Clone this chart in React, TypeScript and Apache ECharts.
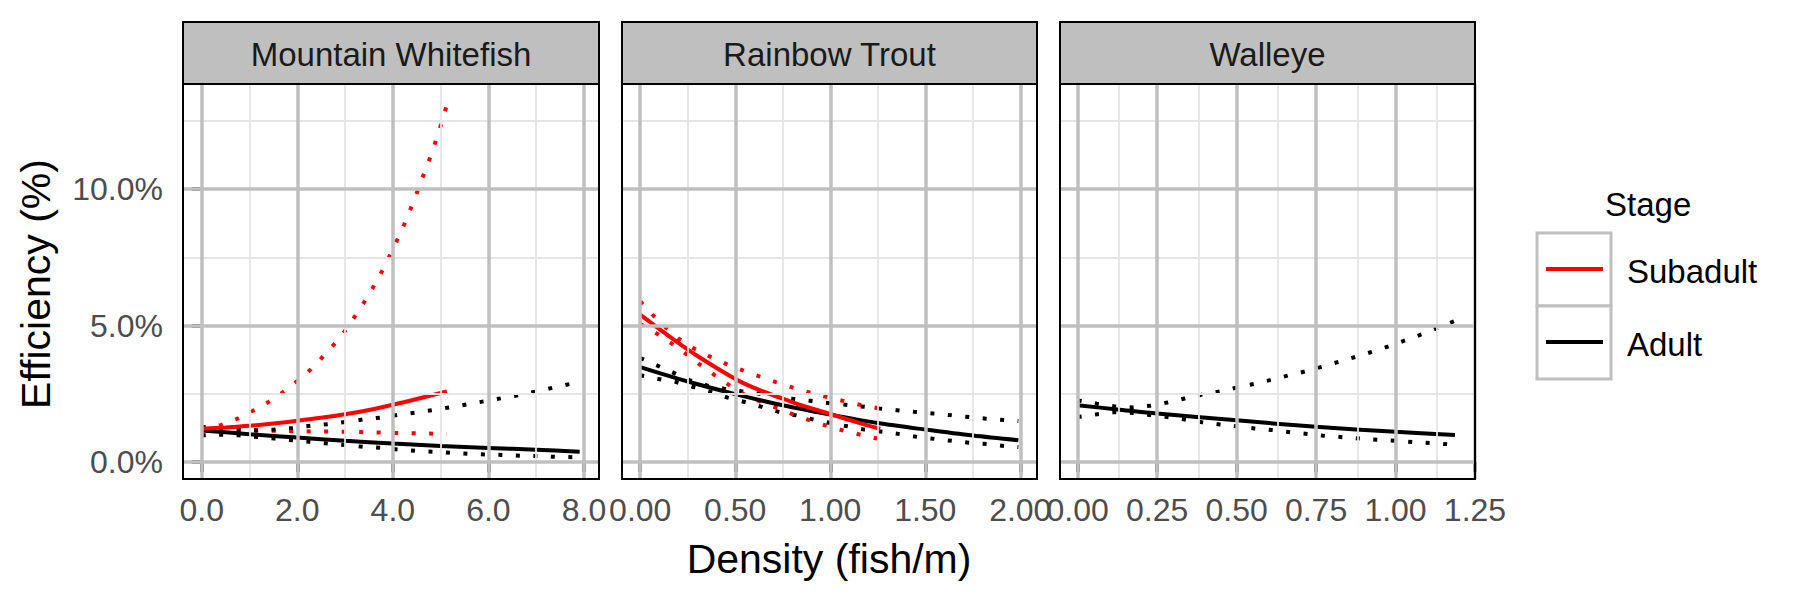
import React, { useEffect, useRef } from 'react';
import * as echarts from 'echarts';

// ---------- labels & ticks ----------
const panelNames = ['Mountain Whitefish', 'Rainbow Trout', 'Walleye'];
const stages = ['Subadult', 'Adult'];
const stageColors = ['#ff0000', '#000000'];
const yTicks = [0, 5, 10];
const yMinor = [2.5, 7.5, 12.5];
const mwTicks = [0, 2, 4, 6, 8];
const mwMinor = [1, 3, 5, 7];
const rtTicks = [0, 0.5, 1, 1.5, 2];
const rtMinor = [0.25, 0.75, 1.25, 1.75];
const waTicks = [0, 0.25, 0.5, 0.75, 1, 1.25];
const waMinor = [0.125, 0.375, 0.625, 0.875, 1.125];
const xTitle = 'Density (fish/m)';
const yTitle = 'Efficiency (%)';
const legendTitle = 'Stage';

// ---------- data: [density, efficiency %] ----------
// Mountain Whitefish
const mwSubFit = [[0, 1.22], [0.5, 1.27], [1, 1.33], [1.5, 1.41], [2, 1.51], [2.5, 1.62], [3, 1.75], [3.5, 1.91], [4, 2.1], [4.5, 2.31], [5.13, 2.59]];
const mwSubUp = [[0, 1.22], [0.4, 1.35], [0.75, 1.59], [1.09, 1.9], [1.4, 2.2], [1.71, 2.57], [2.0, 2.97], [2.28, 3.39], [2.54, 3.87], [2.79, 4.35], [3.02, 4.85], [3.23, 5.4], [3.43, 5.94], [3.62, 6.5], [3.8, 7.08], [3.96, 7.65], [4.12, 8.24], [4.27, 8.83], [4.41, 9.44], [4.54, 10.04], [4.67, 10.65], [4.8, 11.25], [4.92, 11.87], [5.03, 12.49], [5.13, 13.08]];
const mwSubLo = [[0, 1.2], [1, 1.16], [2, 1.13], [3, 1.11], [4, 1.07], [4.85, 1.04], [5.13, 1.03]];
const mwAdFit = [[0, 1.16], [1, 1.02], [2, 0.9], [3, 0.78], [4, 0.68], [5, 0.59], [6, 0.52], [7, 0.45], [7.91, 0.38]];
const mwAdUp = [[0, 1.29], [0.4, 1.23], [0.78, 1.18], [1.15, 1.16], [1.52, 1.19], [1.9, 1.25], [2.27, 1.33], [2.64, 1.39], [3.01, 1.47], [3.38, 1.56], [3.74, 1.63], [4.11, 1.73], [4.48, 1.81], [4.85, 1.91], [5.21, 2.01], [5.58, 2.12], [5.95, 2.24], [6.31, 2.35], [6.68, 2.47], [7.04, 2.6], [7.41, 2.75], [7.78, 2.89], [7.91, 2.95]];
const mwAdLo = [[0, 0.98], [0.4, 1.0], [0.78, 0.98], [1.15, 0.92], [1.52, 0.86], [1.9, 0.8], [2.27, 0.74], [2.64, 0.68], [3.01, 0.62], [3.38, 0.56], [3.74, 0.52], [4.11, 0.46], [4.48, 0.41], [4.85, 0.38], [5.21, 0.34], [5.58, 0.3], [5.95, 0.28], [6.31, 0.26], [6.68, 0.23], [7.04, 0.22], [7.41, 0.19], [7.78, 0.18], [7.91, 0.17]];

// Rainbow Trout
const rtSubFit = [[0, 5.4], [0.13, 4.72], [0.28, 3.98], [0.54, 2.9], [0.8, 2.2], [1.0, 1.76], [1.16, 1.42], [1.263, 1.22]];
const rtSubUp = [[0, 5.89], [0.064, 5.4], [0.13, 4.96], [0.204, 4.51], [0.28, 4.17], [0.365, 3.87], [0.451, 3.6], [0.54, 3.36], [0.626, 3.14], [0.714, 2.93], [0.803, 2.73], [0.895, 2.54], [0.986, 2.38], [1.075, 2.23], [1.166, 2.08], [1.263, 1.96]];
const rtSubLo = [[0, 5.06], [0.084, 4.72], [0.164, 4.35], [0.239, 3.97], [0.312, 3.58], [0.388, 3.2], [0.47, 2.81], [0.549, 2.47], [0.637, 2.2], [0.72, 1.98], [0.807, 1.74], [0.895, 1.52], [0.986, 1.32], [1.075, 1.14], [1.166, 0.99], [1.263, 0.84]];
const rtAdFit = [[0, 3.48], [0.25, 2.95], [0.5, 2.49], [0.75, 2.08], [1.0, 1.74], [1.25, 1.43], [1.5, 1.19], [1.75, 0.97], [1.99, 0.8]];
const rtAdUp = [[0, 3.81], [0.088, 3.54], [0.176, 3.27], [0.263, 2.99], [0.351, 2.81], [0.44, 2.69], [0.54, 2.59], [0.62, 2.51], [0.72, 2.41], [0.8, 2.32], [0.89, 2.25], [0.98, 2.17], [1.07, 2.11], [1.16, 2.04], [1.26, 1.96], [1.35, 1.9], [1.44, 1.84], [1.54, 1.78], [1.63, 1.72], [1.73, 1.65], [1.82, 1.59], [1.91, 1.54], [1.99, 1.5]];
const rtAdLo = [[0, 3.18], [0.09, 3.05], [0.19, 2.93], [0.28, 2.75], [0.37, 2.57], [0.46, 2.36], [0.55, 2.2], [0.64, 2.02], [0.73, 1.84], [0.82, 1.71], [0.91, 1.56], [1.0, 1.43], [1.09, 1.31], [1.18, 1.19], [1.28, 1.11], [1.37, 1.02], [1.46, 0.92], [1.56, 0.84], [1.65, 0.77], [1.74, 0.7], [1.84, 0.65], [1.93, 0.58], [1.99, 0.55]];

// Walleye
const waAdFit = [[0, 2.08], [0.125, 1.93], [0.25, 1.78], [0.5, 1.53], [0.75, 1.29], [1.0, 1.11], [1.187, 0.99]];
const waAdUp = [[0, 2.26], [0.06, 2.14], [0.117, 2.04], [0.172, 2.0], [0.227, 2.06], [0.282, 2.18], [0.337, 2.33], [0.391, 2.47], [0.447, 2.59], [0.501, 2.73], [0.557, 2.87], [0.611, 3.02], [0.665, 3.18], [0.719, 3.33], [0.771, 3.5], [0.826, 3.69], [0.879, 3.87], [0.932, 4.06], [0.986, 4.27], [1.038, 4.49], [1.091, 4.72], [1.143, 4.96], [1.188, 5.18]];
const waAdLo = [[0, 1.65], [0.062, 1.75], [0.117, 1.83], [0.173, 1.8], [0.227, 1.72], [0.282, 1.65], [0.337, 1.56], [0.391, 1.46], [0.447, 1.38], [0.501, 1.31], [0.557, 1.23], [0.614, 1.17], [0.669, 1.09], [0.724, 1.03], [0.778, 0.96], [0.836, 0.91], [0.891, 0.86], [0.949, 0.81], [1.003, 0.78], [1.061, 0.73], [1.116, 0.69], [1.173, 0.65], [1.188, 0.64]];

const FONT = '"Liberation Sans", Arial, Helvetica, sans-serif';
const MAJOR = '#bfbfbf';
const MINOR = '#e5e5e5';

export default function App() {
  const ref = useRef<HTMLDivElement>(null);

  useEffect(() => {
    if (!ref.current) return;
    const chart = echarts.init(ref.current, undefined, { renderer: 'svg' });

    const panelTop = 84;
    const panelH = 395;
    const panels = [
      { left: 183, width: 416, min: -0.391, max: 8.314, ticks: mwTicks, minor: mwMinor, dec: 1 },
      { left: 622, width: 415, min: -0.096, max: 2.088, ticks: rtTicks, minor: rtMinor, dec: 2 },
      { left: 1060, width: 415, min: -0.0555, max: 1.25, ticks: waTicks, minor: waMinor, dec: 2 },
    ];
    const yMin = -0.62;
    const yMax = 13.85;

    const grids = panels.map((p) => ({
      left: p.left, top: panelTop, width: p.width, height: panelH,
      show: true, backgroundColor: '#ffffff', borderWidth: 0,
    }));

    const xAxes = panels.map((p, i) => ({
      type: 'value', gridIndex: i, min: p.min, max: p.max,
      splitLine: { show: false },
      axisLine: { show: false },
      axisTick: { show: true, customValues: p.ticks, length: 10, lineStyle: { color: '#1a1a1a', width: 3.5 } },
      axisLabel: {
        show: true, customValues: p.ticks, margin: 15,
        fontSize: 32, fontFamily: FONT, color: '#4d4d4d',
        formatter: (v: number) => v.toFixed(p.dec),
      },
    }));

    const yAxes = panels.map((p, i) => ({
      type: 'value', gridIndex: i, min: yMin, max: yMax,
      splitLine: { show: false },
      axisLine: { show: false },
      axisTick: { show: i === 0, customValues: yTicks, length: 10, lineStyle: { color: '#1a1a1a', width: 3.5 } },
      axisLabel: {
        show: i === 0, customValues: yTicks, margin: 20,
        fontSize: 32, fontFamily: FONT, color: '#4d4d4d',
        formatter: (v: number) => v.toFixed(1) + '%',
      },
    }));

    const gridSeries = panels.map((p, i) => ({
      type: 'line', xAxisIndex: i, yAxisIndex: i, data: [], z: 1, silent: true,
      markLine: {
        silent: true, symbol: ['none', 'none'], label: { show: false },
        emphasis: { disabled: true },
        data: [
          ...p.minor.map((v) => ({ xAxis: v, lineStyle: { color: MINOR, width: 1.8, type: 'solid' } })),
          ...yMinor.map((v) => ({ yAxis: v, lineStyle: { color: MINOR, width: 1.8, type: 'solid' } })),
          ...p.ticks.map((v) => ({ xAxis: v, lineStyle: { color: MAJOR, width: 3.5, type: 'solid' } })),
          ...yTicks.map((v) => ({ yAxis: v, lineStyle: { color: MAJOR, width: 3.5, type: 'solid' } })),
        ],
      },
    }));

    const mk = (data: number[][], color: string, dotted: boolean, gi: number) => ({
      type: 'line', data, xAxisIndex: gi, yAxisIndex: gi, z: 3,
      showSymbol: false, symbol: 'none', silent: true,
      smooth: dotted ? false : 0.3,
      emphasis: { disabled: true },
      lineStyle: dotted
        ? { color, width: 4, type: [4, 13.5], cap: 'butt' }
        : { color, width: 4 },
    });

    const red = stageColors[0];
    const blk = stageColors[1];
    const dataSeries = [
      mk(mwSubUp, red, true, 0), mk(mwSubLo, red, true, 0),
      mk(mwAdUp, blk, true, 0), mk(mwAdLo, blk, true, 0),
      mk(mwAdFit, blk, false, 0), mk(mwSubFit, red, false, 0),
      mk(rtAdUp, blk, true, 1), mk(rtAdLo, blk, true, 1),
      mk(rtSubUp, red, true, 1), mk(rtSubLo, red, true, 1),
      mk(rtAdFit, blk, false, 1), mk(rtSubFit, red, false, 1),
      mk(waAdUp, blk, true, 2), mk(waAdLo, blk, true, 2),
      mk(waAdFit, blk, false, 2),
    ];

    const graphics: any[] = [];
    panels.forEach((p, i) => {
      graphics.push({
        type: 'rect', z: 50, shape: { x: p.left, y: 22, width: p.width, height: panelTop - 22 },
        style: { fill: '#bfbfbf', stroke: '#000', lineWidth: 2 }, silent: true,
      });
      graphics.push({
        type: 'text', z: 51, x: p.left + p.width / 2, y: 54,
        style: { text: panelNames[i], fontSize: 33, fontFamily: FONT, fill: '#1a1a1a', align: 'center', verticalAlign: 'middle' },
        silent: true,
      });
      graphics.push({
        type: 'rect', z: 60, shape: { x: p.left, y: panelTop, width: p.width, height: panelH },
        style: { fill: 'none', stroke: '#000', lineWidth: 2 }, silent: true,
      });
    });
    // axis titles
    graphics.push({
      type: 'text', x: 829, y: 559,
      style: { text: xTitle, fontSize: 41, fontFamily: FONT, fill: '#000', align: 'center', verticalAlign: 'middle' },
      silent: true,
    });
    graphics.push({
      type: 'text', x: 36, y: 284, rotation: Math.PI / 2,
      style: { text: yTitle, fontSize: 41, fontFamily: FONT, fill: '#000', align: 'center', verticalAlign: 'middle' },
      silent: true,
    });
    // legend
    graphics.push({
      type: 'text', x: 1605, y: 204,
      style: { text: legendTitle, fontSize: 33, fontFamily: FONT, fill: '#000', align: 'left', verticalAlign: 'middle' },
      silent: true,
    });
    const keyTops = [233, 306];
    stages.forEach((s, i) => {
      const top = keyTops[i];
      graphics.push({
        type: 'rect', shape: { x: 1537, y: top, width: 74, height: 73 },
        style: { fill: '#fff', stroke: '#bfbfbf', lineWidth: 3 }, silent: true,
      });
      graphics.push({
        type: 'line', shape: { x1: 1546, y1: top + 36, x2: 1603, y2: top + 36 },
        style: { stroke: stageColors[i], lineWidth: 4 }, silent: true,
      });
      graphics.push({
        type: 'text', x: 1627, y: top + 38,
        style: { text: s, fontSize: 33, fontFamily: FONT, fill: '#000', align: 'left', verticalAlign: 'middle' },
        silent: true,
      });
    });

    chart.setOption({
      animation: false,
      backgroundColor: '#ffffff',
      textStyle: { fontFamily: FONT },
      grid: grids,
      xAxis: xAxes,
      yAxis: yAxes,
      series: [...gridSeries, ...dataSeries],
      graphic: graphics,
    } as any);

    return () => chart.dispose();
  }, []);

  return (
    <div
      ref={ref}
      style={{ position: 'absolute', left: 0, top: 0, width: 1800, height: 600, background: '#fff' }}
    />
  );
}
